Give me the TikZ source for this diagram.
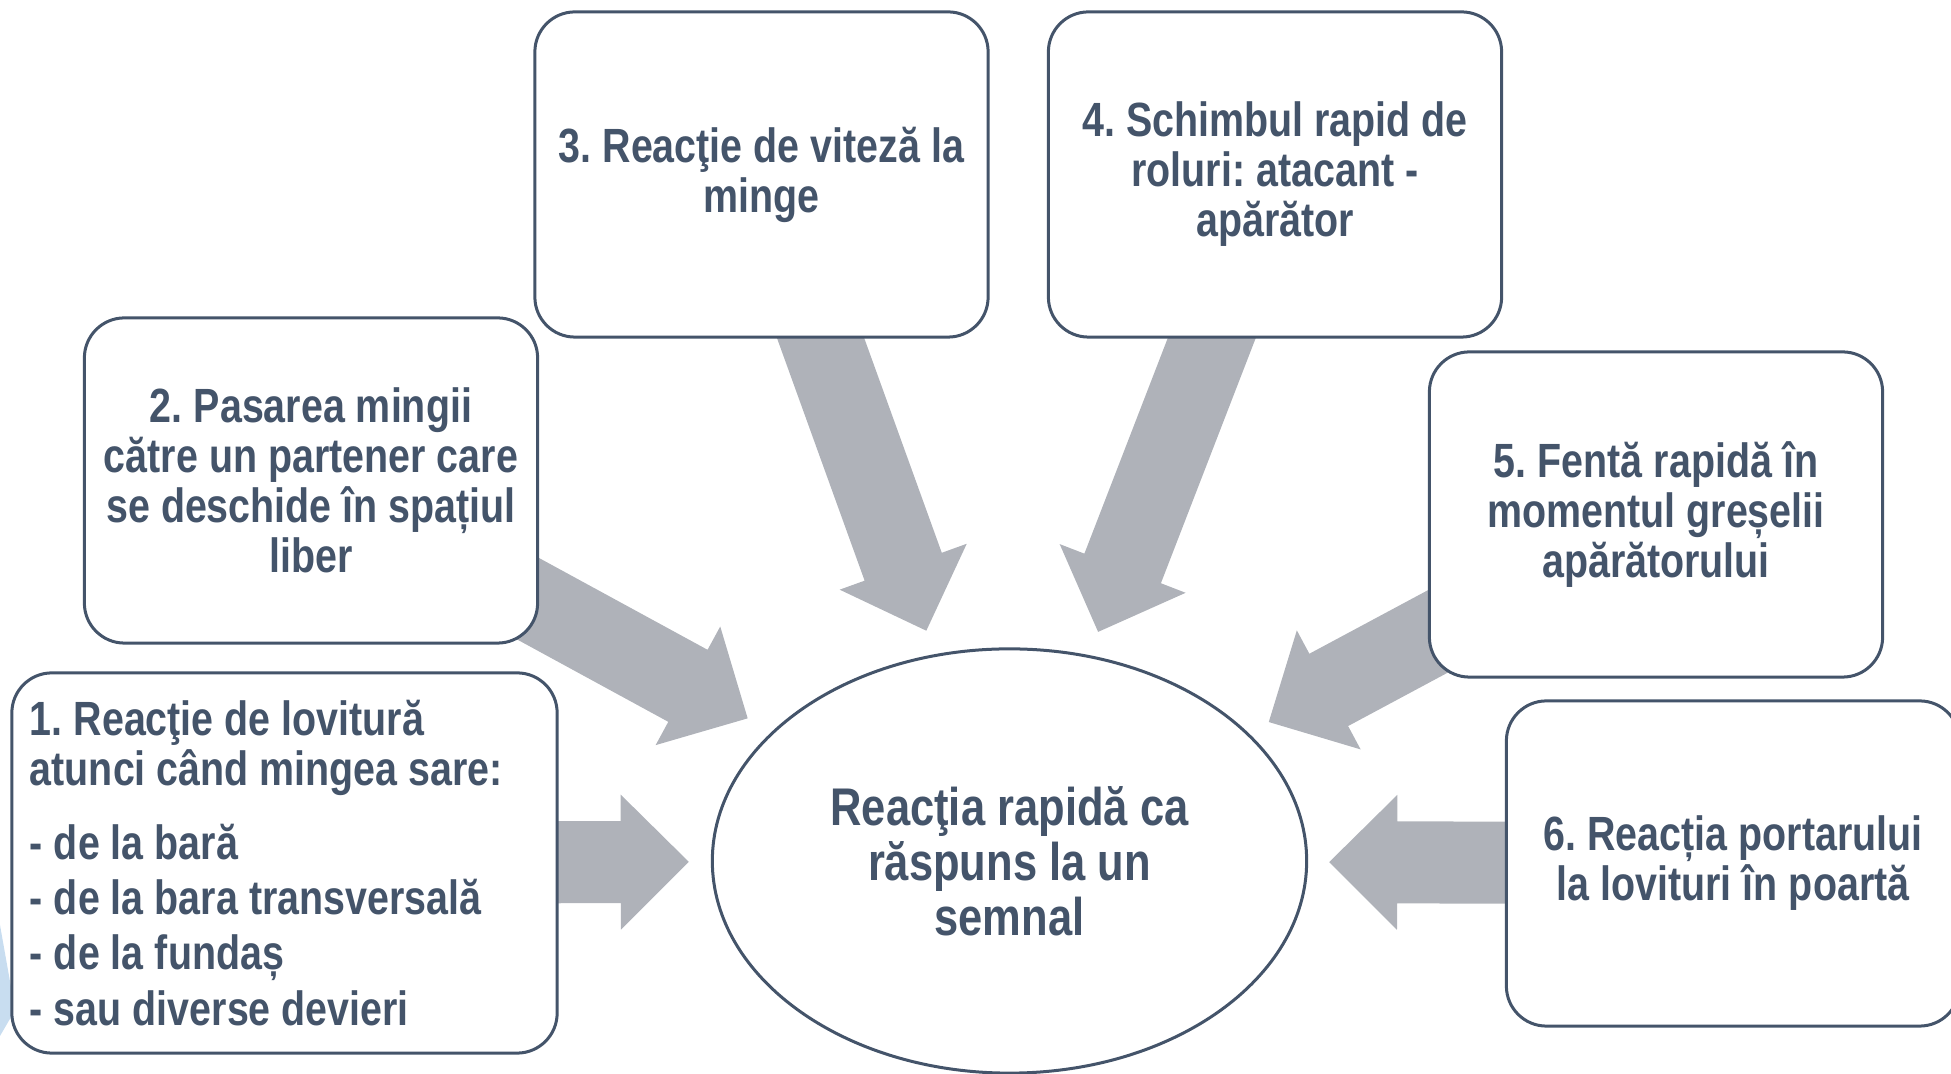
\documentclass[tikz,border=0pt]{standalone}
\usepackage{fontspec}
\setmainfont{Liberation Sans}[FakeStretch=0.82]
\usetikzlibrary{calc,shapes.geometric}
\pgfdeclarelayer{bg}
\pgfsetlayers{bg,main}
\definecolor{txt}{HTML}{44546A}
\definecolor{agray}{HTML}{AFB2B9}
\definecolor{lblue}{HTML}{C8DDF0}
\newcommand\blockarrow[3]{%
  \path ($(#2.center)!#3!(#1.center)$) coordinate (tip);
  \path ($(tip)!0.68cm!(#1.center)$) coordinate (hb);
  \fill[agray] ($(#1.center)!0.41cm!90:(tip)$) -- ($(hb)!0.41cm!90:(tip)$)
    -- ($(hb)!0.675cm!90:(tip)$) -- (tip) -- ($(hb)!0.675cm!-90:(tip)$)
    -- ($(hb)!0.41cm!-90:(tip)$) -- ($(#1.center)!0.41cm!-90:(tip)$) -- cycle;}
\newcommand\tightsp{\spaceskip=0.23em\relax\xspaceskip=0.23em\relax}
\begin{document}
\begin{tikzpicture}[x=0.01cm,y=-0.01cm,
  box/.style={draw=txt, line width=0.03cm, rounded corners=0.4cm, fill=white,
    text=txt, font=\bfseries\fontsize{13.66}{14.23}\selectfont, align=center,
    execute at begin node=\tightsp,
    text width=4.4cm, minimum width=4.53cm, minimum height=3.25cm, inner sep=0pt},
  centre/.style={draw=txt, line width=0.03cm, ellipse, fill=white, text=txt,
    font=\bfseries\fontsize{15.08}{15.65}\selectfont, align=center,
    execute at begin node=\tightsp,
    minimum width=5.94cm, minimum height=4.24cm, inner sep=0pt}]
\useasboundingbox (0,0) rectangle (1951,1074);
\clip (0,0) rectangle (1951,1074);
\node[box, align=left, text width=5.09cm, inner xsep=0.18cm, minimum width=5.45cm, minimum height=3.8cm] (b1) at (284.5,863)
  {1. Reacţie de lovitură\\atunci când mingea sare:\\[0.24cm]- de la bară\\[0.05cm]- de la bara transversală\\[0.05cm]- de la fundaș\\[0.05cm]- sau diverse devieri};
\node[box] (b2) at (311,480.5) {2. Pasarea mingii\\către un partener care\\se deschide în spațiul\\liber};
\node[box] (b3) at (761.5,174.5) {3. Reacţie de viteză la\\minge};
\node[box] (b4) at (1275,174.5) {4. Schimbul rapid de\\roluri: atacant -\\apărător};
\node[box] (b5) at (1656,514.5) {5. Fentă rapidă în\\momentul greșelii\\apărătorului};
\node[box] (b6) at (1733,863.5) {6. Reacția portarului\\la lovituri în poartă};
\node[centre] (ell) at (1009.5,861) {Reacţia rapidă ca\\răspuns la un\\semnal};
\begin{pgfonlayer}{bg}
  \fill[lblue] (0,925) -- (14,1004) -- (14,1012) -- (0,1036) -- cycle;
  \blockarrow{b1}{ell}{3.205cm}
  \blockarrow{b2}{ell}{2.98cm}
  \blockarrow{b3}{ell}{2.447cm}
  \blockarrow{b4}{ell}{2.455cm}
  \blockarrow{b5}{ell}{2.94cm}
  \blockarrow{b6}{ell}{3.195cm}
\end{pgfonlayer}
\end{tikzpicture}
\end{document}
